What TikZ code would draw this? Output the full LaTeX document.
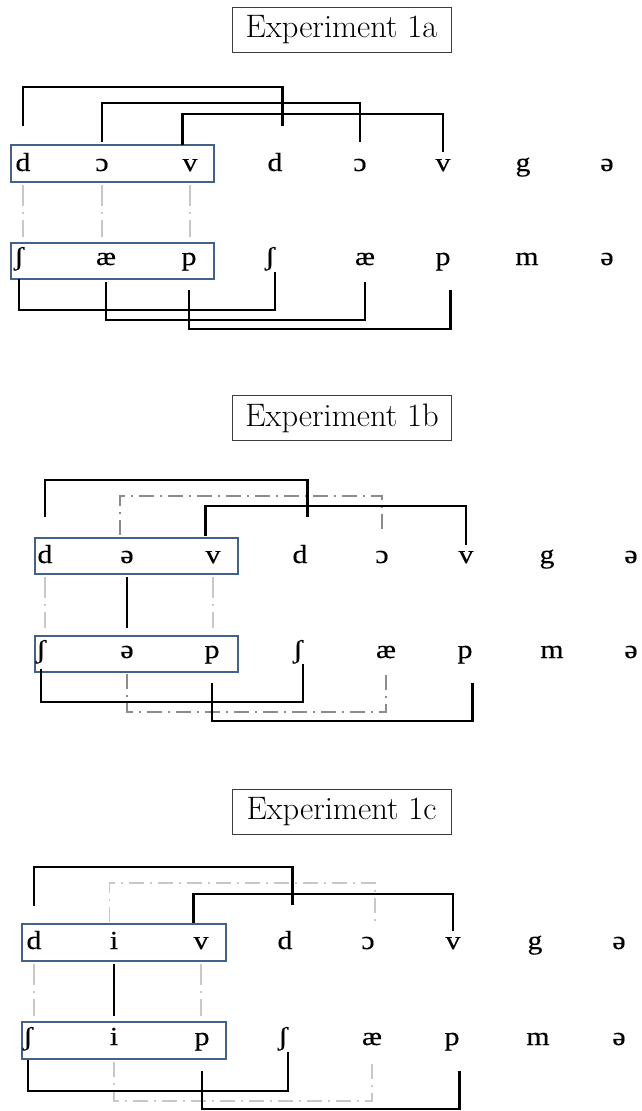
\documentclass[tikz,border=0pt]{standalone}
\usepackage{fontspec}
\newfontfamily\ipafont[FakeStretch=1.15,FakeBold=0.4]{Liberation Serif}
\usetikzlibrary{calc}
\definecolor{boxblue}{RGB}{66,98,138}
\definecolor{lightgrey}{RGB}{200,200,200}
\definecolor{midgrey}{RGB}{140,140,140}
\definecolor{titleframe}{RGB}{60,60,60}
\tikzset{
  seg/.style={font=\ipafont\fontsize{26}{30}\selectfont, inner sep=0pt, anchor=base},
  title/.style={draw=titleframe, line width=0.9pt, inner sep=0pt,
    minimum width=219pt, minimum height=45pt, font=\fontsize{32.5}{38}\selectfont},
  wordbox/.style={draw=boxblue, line width=1.2pt, inner sep=0pt,
    minimum width=203pt, minimum height=37pt},
  link/.style={line width=2.6pt, black},
  weak/.style={line width=1.6pt, dash pattern=on 15pt off 6pt on 2pt off 6pt},
  assoc/.style={line width=1.6pt, lightgrey, dash pattern=on 21pt off 6pt on 1.5pt off 6pt},
}
\begin{document}
\begin{tikzpicture}[x=1pt,y=-1pt]
\useasboundingbox (0,0) rectangle (641,1111);

% ---------------- Experiment 1a ----------------
\node[title] (ta) at (341.5,29.5) {Experiment 1a};
\node[wordbox] (aTopBox) at (112.5,163.5) {};
\node[wordbox, minimum height=36pt] (aBotBox) at (112.5,261) {};
\foreach \s/\x [count=\i] in {d/23,ɔ/102,v/190,d/275,ɔ/360,v/443,g/523,ə/607}
  \node[seg] (aT\i) at (\x,171) {\s};
\foreach \s/\x [count=\i] in {ʃ/19,æ/106,p/189,ʃ/270,æ/365,p/443,m/527,ə/607}
  \node[seg] (aB\i) at (\x,265) {\s};
% correspondences between the two words
\draw[assoc] (aT1 |- 0,185) -- (aT1 |- 0,237);
\draw[assoc] (aT2 |- 0,185) -- (aT2 |- 0,237);
\draw[assoc] (aT3 |- 0,185) -- (aT3 |- 0,237);
% links to the second copy
\draw[link] (aT1 |- 0,126) |- (aT4.east |- 0,87) -- (aT4.east |- 0,126);
\draw[link] (aT2 |- 0,142) |- (aT5 |- 0,103) -- (aT5 |- 0,142);
\draw[link] (aT3.west |- 0,145) |- (aT6 |- 0,114) -- (aT6 |- 0,152);
\draw[link] (aB1 |- 0,279) |- (aB4.east |- 0,310) -- (aB4.east |- 0,272);
\draw[link] (aB2 |- 0,282) |- (aB5 |- 0,320) -- (aB5 |- 0,282);
\draw[link] (aB3 |- 0,290) |- (aB6.east |- 0,329) -- (aB6.east |- 0,290);

% ---------------- Experiment 1b ----------------
\node[title] (tb) at (342,418) {Experiment 1b};
\node[wordbox, minimum height=36pt] (bTopBox) at (136.5,556) {};
\node[wordbox, minimum height=36pt] (bBotBox) at (136.5,654) {};
\foreach \s/\x [count=\i] in {d/45,ə/127,v/213,d/300,ɔ/382,v/466,g/547,ə/631}
  \node[seg] (bT\i) at (\x,563) {\s};
\foreach \s/\x [count=\i] in {ʃ/41,ə/127,p/212,ʃ/298,æ/386,p/465,m/552,ə/631}
  \node[seg] (bB\i) at (\x,658) {\s};
\draw[assoc] (bT1 |- 0,577) -- (bT1 |- 0,628);
\draw[assoc] (bT3 |- 0,577) -- (bT3 |- 0,628);
\draw[link] (bT2 |- 0,577) -- (bT2 |- 0,628);
\draw[weak, midgrey] (bT2.west |- 0,535) |- (bT5 |- 0,496) -- (bT5 |- 0,535);
\draw[weak, midgrey] (bB2 |- 0,674) |- (bB5 |- 0,712) -- (bB5 |- 0,674);
\draw[link] (bT1 |- 0,517) |- (bT4.east |- 0,480) -- (bT4.east |- 0,517);
\draw[link] (bT3.west |- 0,536) |- (bT6 |- 0,506) -- (bT6 |- 0,545);
\draw[link] (bB1 |- 0,669) |- (bB4.east |- 0,702) -- (bB4.east |- 0,664);
\draw[link] (bB3 |- 0,683) |- (bB6.east |- 0,721) -- (bB6.east |- 0,683);

% ---------------- Experiment 1c ----------------
\node[title] (tc) at (341.5,811.5) {Experiment 1c};
\node[wordbox, minimum width=204pt] (cTopBox) at (124,942.5) {};
\node[wordbox, minimum width=204pt] (cBotBox) at (124,1040.5) {};
\foreach \s/\x [count=\i] in {d/34,i/114,v/201,d/285,ɔ/368,v/453,g/535,ə/619}
  \node[seg] (cT\i) at (\x,949) {\s};
\foreach \s/\x [count=\i] in {ʃ/28,i/114,p/202,ʃ/283,æ/372,p/452,m/538,ə/619}
  \node[seg] (cB\i) at (\x,1045) {\s};
\draw[assoc] (cT1 |- 0,964) -- (cT1 |- 0,1016);
\draw[assoc] (cT3 |- 0,964) -- (cT3 |- 0,1016);
\draw[link] (cT2 |- 0,964) -- (cT2 |- 0,1016);
\draw[weak, lightgrey] (cT2.west |- 0,922) |- (cT5.east |- 0,883) -- (cT5.east |- 0,921);
\draw[weak, lightgrey] (cB2 |- 0,1062) |- (cB5 |- 0,1101) -- (cB5 |- 0,1062);
\draw[link] (cT1 |- 0,906) |- (cT4.east |- 0,867) -- (cT4.east |- 0,905);
\draw[link] (cT3.west |- 0,923) |- (cT6 |- 0,894) -- (cT6 |- 0,931);
\draw[link] (cB1 |- 0,1060) |- (cB4.east |- 0,1091) -- (cB4.east |- 0,1052);
\draw[link] (cB3 |- 0,1071) |- (cB6.east |- 0,1109) -- (cB6.east |- 0,1071);
\end{tikzpicture}
\end{document}
